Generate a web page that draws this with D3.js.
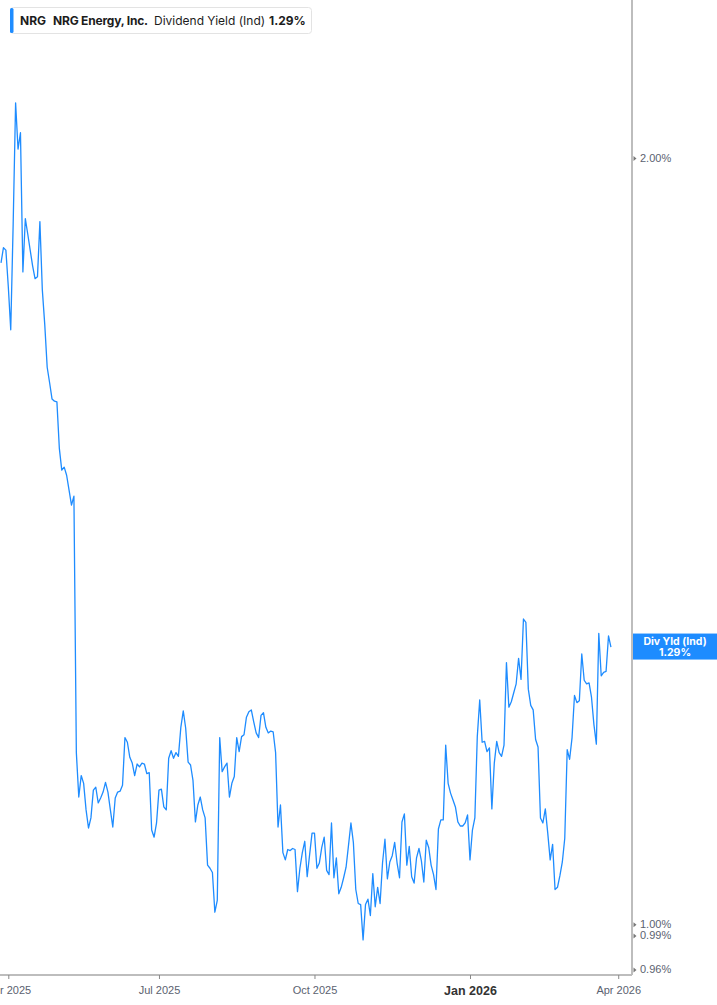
<!DOCTYPE html>
<html>
<head>
<meta charset="utf-8">
<script src="https://cdn.jsdelivr.net/npm/d3@7"></script>
<style>
  body { margin: 0; background: #fff; }
  svg { display: block; font-family: Inter, "Noto Sans", sans-serif; }
</style>
</head>
<body>
<svg id="chart"></svg>
<script>
// dividend yield (%) per trading day, first value = 2025-03-27
const firstDate = "2025-03-27";
const yieldValues = [
  1.819,1.844,1.840,1.780,1.712,1.884,2.102,2.016,2.046,1.804,
  1.893,1.867,1.840,1.814,1.793,1.796,1.888,1.775,1.720,1.655,
  1.632,1.608,1.605,1.604,1.538,1.508,1.512,1.501,1.481,1.461,
  1.473,1.168,1.122,1.144,1.136,1.109,1.091,1.101,1.129,1.132,
  1.116,1.121,1.127,1.137,1.127,1.109,1.092,1.121,1.127,1.128,
  1.134,1.184,1.179,1.163,1.157,1.144,1.156,1.153,1.157,1.156,
  1.146,1.147,1.089,1.082,1.096,1.129,1.130,1.112,1.109,1.162,
  1.170,1.162,1.168,1.164,1.195,1.213,1.194,1.158,1.155,1.139,
  1.097,1.114,1.122,1.109,1.101,1.055,1.052,1.048,1.011,1.022,
  1.184,1.148,1.153,1.157,1.122,1.136,1.143,1.184,1.169,1.185,
  1.187,1.206,1.212,1.214,1.201,1.189,1.184,1.208,1.211,1.195,
  1.189,1.191,1.190,1.168,1.092,1.114,1.067,1.060,1.070,1.069,
  1.071,1.070,1.030,1.052,1.067,1.078,1.044,1.065,1.086,1.086,
  1.052,1.057,1.072,1.082,1.050,1.046,1.096,1.043,1.062,1.028,
  1.034,1.043,1.053,1.074,1.096,1.077,1.032,1.019,1.018,0.986,
  1.018,1.023,1.008,1.047,1.016,1.034,1.019,1.057,1.080,1.042,
  1.058,1.064,1.077,1.057,1.043,1.097,1.105,1.055,1.073,1.044,
  1.038,1.062,1.071,1.059,1.039,1.079,1.072,1.055,1.046,1.032,
  1.090,1.099,1.099,1.176,1.136,1.126,1.119,1.112,1.097,1.093,
  1.093,1.096,1.104,1.060,1.089,1.101,1.185,1.225,1.179,1.180,
  1.169,1.173,1.110,1.157,1.180,1.168,1.164,1.176,1.267,1.217,
  1.223,1.233,1.243,1.272,1.248,1.318,1.314,1.237,1.219,1.214,
  1.182,1.174,1.101,1.096,1.110,1.086,1.060,1.075,1.032,1.034,
  1.045,1.058,1.081,1.171,1.161,1.184,1.230,1.222,1.224,1.277,
  1.247,1.243,1.244,1.228,1.198,1.177,1.301,1.252,1.256,1.257,
  1.298,1.285
];
const marketHolidays = ["2025-04-18","2025-05-26","2025-06-19","2025-07-04","2025-09-01",
  "2025-11-27","2025-12-25","2026-01-01","2026-01-19","2026-02-16","2026-04-03"];
const xTickDates = ["2025-04-01","2025-07-01","2025-10-01","2026-01-02","2026-04-01"];
const xTickLabels = ["Apr 2025","Jul 2025","Oct 2025","Jan 2026","Apr 2026"];
const yTickValues = [0.96, 0.99, 1.00, 2.00];
const ticker = "NRG";
const company = "NRG Energy, Inc.";
const metric = "Dividend Yield (Ind)";
const lastLabel = "1.29%";

const width = 717;
const height = 1005;
const plotRight = 632;
const plotBottom = 975;
const blue = "#1e8cff";

// trading calendar (weekdays minus market holidays)
const fmt = d3.utcFormat("%Y-%m-%d");
const calendar = d3.utcDay.range(new Date(firstDate + "T00:00:00Z"), new Date("2026-05-01T00:00:00Z"))
  .filter(d => d.getUTCDay() !== 0 && d.getUTCDay() !== 6 && !marketHolidays.includes(fmt(d)))
  .map(fmt);
const data = yieldValues.map((v, i) => ({idx: i, date: calendar[i], value: v}));

const x = d3.scaleLinear()
  .domain([-0.42, 259.67])
  .range([0, plotRight]);
const y = d3.scaleLog()
  .domain([0.9552, 2.307])
  .range([plotBottom, 0]);

const svg = d3.select("#chart")
  .attr("width", width)
  .attr("height", height)
  .attr("viewBox", [0, 0, width, height]);

svg.append("clipPath").attr("id", "plot")
  .append("rect").attr("x", 0).attr("y", 0).attr("width", plotRight).attr("height", plotBottom);

const line = d3.line()
  .x(d => x(d.idx))
  .y(d => y(d.value));

svg.append("path")
  .attr("clip-path", "url(#plot)")
  .attr("fill", "none")
  .attr("stroke", blue)
  .attr("stroke-width", 1.3)
  .attr("stroke-linejoin", "round")
  .attr("d", line(data));

// bottom axis
const xTickIdx = xTickDates.map(d => calendar.indexOf(d));
svg.append("g")
  .attr("transform", `translate(0,${plotBottom})`)
  .call(d3.axisBottom(x).tickValues(xTickIdx).tickSize(4).tickSizeOuter(0)
    .tickFormat((d, i) => xTickLabels[i]))
  .call(g => g.select(".domain").attr("stroke", "#bdbdbd").attr("stroke-width", 2)
    .attr("d", `M0,0H${plotRight}`))
  .call(g => g.selectAll(".tick line").attr("stroke", "#888"))
  .call(g => g.selectAll(".tick text")
    .attr("dy", "1.05em")
    .attr("font-size", (d, i) => xTickLabels[i] === "Jan 2026" ? 12.5 : 11)
    .attr("font-weight", (d, i) => xTickLabels[i] === "Jan 2026" ? 700 : 400)
    .attr("fill", (d, i) => xTickLabels[i] === "Jan 2026" ? "#333" : "#5b6270"));

// right axis
svg.append("g")
  .attr("transform", `translate(${plotRight},0)`)
  .call(d3.axisRight(y).tickValues(yTickValues).tickSize(0).tickPadding(8)
    .tickFormat(d => d3.format(".2f")(d) + "%"))
  .call(g => g.select(".domain").attr("stroke", "#bdbdbd").attr("stroke-width", 2)
    .attr("d", `M0,0V${plotBottom}`))
  .call(g => g.selectAll(".tick").append("path")
    .attr("d", "M1.5,-2.5L4.5,0L1.5,2.5Z").attr("fill", "#777"))
  .call(g => g.selectAll(".tick text")
    .attr("font-size", 11)
    .attr("fill", "#5b6270"));

// last value badge
const lastY = y(yieldValues[yieldValues.length - 1]);
const badge = svg.append("g");
badge.append("rect")
  .attr("x", plotRight + 1).attr("y", lastY - 13.5)
  .attr("width", width - plotRight - 1).attr("height", 26)
  .attr("fill", blue);
badge.append("text")
  .attr("x", 675).attr("y", lastY - 2.5)
  .attr("text-anchor", "middle").attr("fill", "#fff")
  .attr("font-size", 10.5).attr("font-weight", 700)
  .text("Div Yld (Ind)");
badge.append("text")
  .attr("x", 675).attr("y", lastY + 9)
  .attr("text-anchor", "middle").attr("fill", "#fff")
  .attr("font-size", 10.5).attr("font-weight", 700)
  .text(lastLabel);

// legend box
const legend = svg.append("g");
legend.append("rect")
  .attr("x", 10.5).attr("y", 7.5).attr("width", 301).attr("height", 26).attr("rx", 3)
  .attr("fill", "#fff").attr("stroke", "#e3e3e3");
legend.append("rect")
  .attr("x", 10).attr("y", 8).attr("width", 3.5).attr("height", 25).attr("rx", 1.5)
  .attr("fill", blue);
const lt = legend.append("text").attr("y", 25).attr("font-size", 12).attr("fill", "#1c1c1c");
lt.append("tspan").attr("x", 20).attr("font-weight", 700).text(ticker);
lt.append("tspan").attr("x", 53).attr("font-weight", 700).attr("letter-spacing", -0.2).text(company);
lt.append("tspan").attr("x", 154).attr("font-weight", 400).text(metric);
lt.append("tspan").attr("x", 269).attr("font-weight", 700).text(lastLabel);
</script>
</body>
</html>
